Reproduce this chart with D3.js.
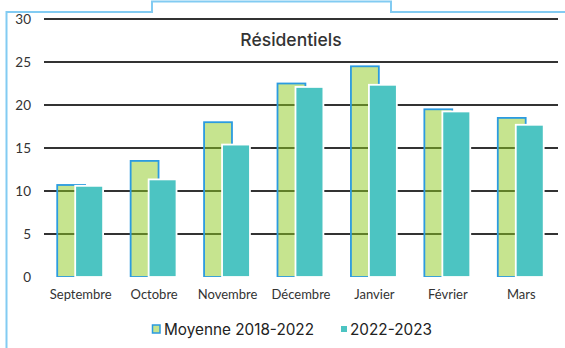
<!DOCTYPE html>
<html><head><meta charset="utf-8">
<script src="https://cdn.jsdelivr.net/npm/d3@7"></script>
<style>body{margin:0;background:#fff}svg{display:block}</style>
</head><body>
<svg id="c" width="565" height="348"></svg>
<script>
const categories = ["Septembre","Octobre","Novembre","Décembre","Janvier","Février","Mars"];
const seriesNames = ["Moyenne 2018-2022","2022-2023"];
const moyenne = [10.7,13.5,18.0,22.5,24.5,19.5,18.5];
const saison = [10.6,11.35,15.4,22.1,22.35,19.25,17.7];
const yTicks = [0,5,10,15,20,25,30];
const title = "Résidentiels";

(function(){
const svg = d3.select("#c");
const mLeft = 44, mRight = 558, mTop = 19, mBottom = 277;
const x = d3.scaleBand().domain(categories).range([mLeft,mRight]).padding(0);
const y = d3.scaleLinear().domain([0,30]).range([mBottom,mTop]);
const step = x.step();

// frame
svg.append("path").attr("d","M6.5,348V12H152V1.5H391V12H565")
  .attr("fill","none").attr("stroke","#82cbf2").attr("stroke-width",2);

// gridlines
svg.append("g").selectAll("line").data(yTicks.filter(d=>d>0)).join("line")
  .attr("x1",mLeft).attr("x2",mRight).attr("y1",d=>y(d)).attr("y2",d=>y(d))
  .attr("stroke","#333").attr("stroke-width",2.2);

// y axis labels
const yAxis = d3.axisLeft(y).tickValues(yTicks).tickSize(0).tickPadding(0);
const gy = svg.append("g").attr("transform","translate(31,0)").call(yAxis);
gy.select(".domain").remove();
gy.selectAll("text").attr("font-family","Lato, sans-serif").attr("font-size",13.5).attr("fill","#333");

// bars
const bw = step*0.38, off = step*0.18, shift = step*0.245;
svg.append("g").selectAll("rect").data(moyenne).join("rect")
  .attr("x",(d,i)=>x(categories[i])+off).attr("width",bw)
  .attr("y",d=>y(d)).attr("height",d=>mBottom-y(d))
  .attr("fill","rgb(141,201,31)").attr("fill-opacity",0.5)
  .attr("stroke","#2b9be0").attr("stroke-width",1.8);
svg.append("g").selectAll("rect").data(saison).join("rect")
  .attr("x",(d,i)=>x(categories[i])+off+shift).attr("width",bw)
  .attr("y",d=>y(d)).attr("height",d=>mBottom-y(d))
  .attr("fill","#4cc4c2").attr("stroke","#fff").attr("stroke-width",1.8);
svg.append("rect").attr("x",mLeft).attr("y",mBottom).attr("width",mRight-mLeft).attr("height",3).attr("fill","#fff");

// x labels
const xAxis = d3.axisBottom(x).tickSize(0).tickPadding(0);
const gx = svg.append("g").attr("transform",`translate(0,${mBottom+13})`).call(xAxis);
gx.select(".domain").remove();
gx.selectAll("text").attr("font-family","Lato, sans-serif").attr("font-size",13).attr("fill","#333");

// title
svg.append("text").attr("x",291).attr("y",46).attr("text-anchor","middle")
  .attr("font-family","Inter, sans-serif").attr("font-weight",500).attr("font-size",17.5)
  .attr("fill","#333").text(title);

// legend
const lg = svg.append("g").attr("font-family","Inter, sans-serif").attr("font-size",15.3).attr("fill","#222");
lg.append("rect").attr("x",152.5).attr("y",325).attr("width",7.5).attr("height",8)
  .attr("fill","rgb(198,228,143)").attr("stroke","#2b9be0").attr("stroke-width",1.5);
lg.append("text").attr("x",164).attr("y",335).text(seriesNames[0]);
lg.append("rect").attr("x",341).attr("y",326).attr("width",6).attr("height",6).attr("fill","#4cc4c2");
lg.append("text").attr("x",350).attr("y",335).text(seriesNames[1]);
})();
</script>
</body></html>
